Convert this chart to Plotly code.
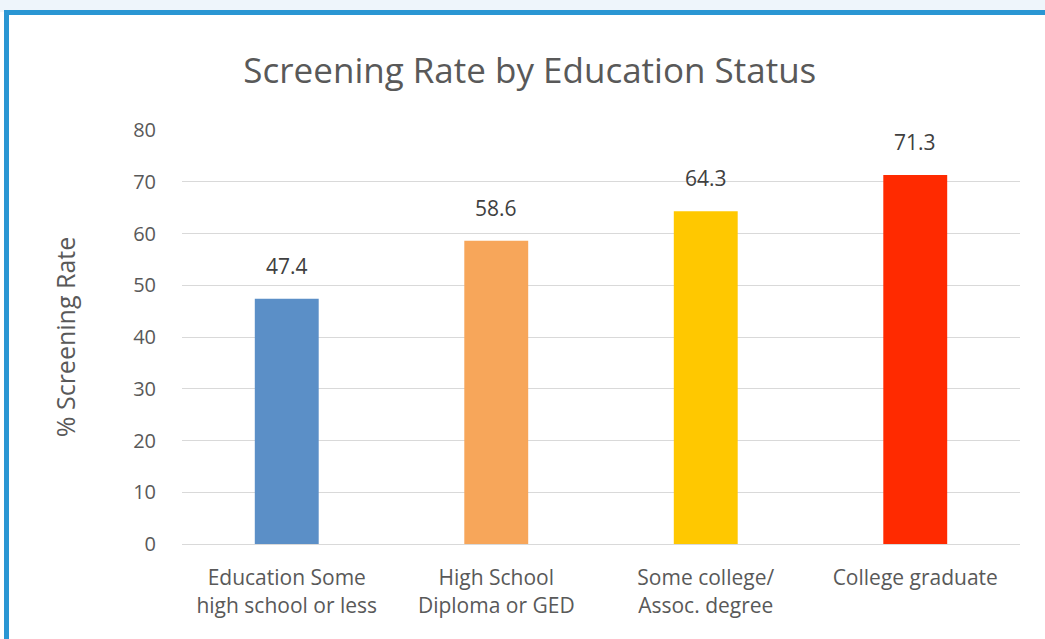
import plotly.graph_objects as go

categories = ["Education Some<br>high school or less", "High School<br>Diploma or GED",
              "Some college/<br>Assoc. degree", "College graduate<br> "]
rates = [47.4, 58.6, 64.3, 71.3]
bar_colors = ["#5B8FC7", "#F7A65A", "#FFC800", "#FF2A00"]
y_ticks = [0, 10, 20, 30, 40, 50, 60, 70, 80]

# plot area in pixels: left 182, right 1020, top 130, bottom 544
L, T, R, B = 182, 130, 1020, 544
W, H = R - L, B - T


def px_x(px):
    return (px - L) / W


def px_y(py):
    return (B - py) / H


fig = go.Figure(go.Bar(
    x=categories, y=rates,
    marker=dict(color=bar_colors, line=dict(width=0)),
    width=0.305,
    hoverinfo="x+y",
))

for cat, v in zip(categories, rates):
    fig.add_annotation(x=cat, y=v, text=f"{v:.1f}", showarrow=False,
                       yanchor="bottom", yshift=17,
                       font=dict(size=21, color="#404040"))

BORDER = "#2A96D3"
fig.update_layout(
    width=1045, height=639,
    paper_bgcolor="white", plot_bgcolor="white",
    font=dict(family="Open Sans", color="#595959"),
    title=dict(text="Screening Rate by Education Status", x=0.507, xanchor="center",
               y=0.889, yanchor="middle", font=dict(size=35, color="#595959")),
    margin=dict(l=L, r=1045 - R, t=T, b=639 - B),
    showlegend=False,
    yaxis=dict(range=[0, 80], tickvals=y_ticks, gridcolor="#D9D9D9", gridwidth=1,
               zeroline=False, ticks="", tickfont=dict(size=20, color="#595959"),
               ticklabelstandoff=25,
               title=dict(text="% Screening Rate", font=dict(size=25, color="#595959"),
                          standoff=50),
               showline=False),
    xaxis=dict(showline=True, linecolor="#D9D9D9", linewidth=1, ticks="",
               tickfont=dict(size=21, color="#595959"), ticklabelstandoff=15),
    shapes=[
        # faint backdrop above the frame
        dict(type="rect", xref="paper", yref="paper", x0=px_x(0), x1=px_x(1045),
             y0=px_y(12), y1=px_y(0), fillcolor="#EEF5FB", line=dict(width=0), layer="below"),
        dict(type="line", xref="paper", yref="paper", x0=px_x(4), x1=px_x(1045),
             y0=px_y(12.5), y1=px_y(12.5), line=dict(color=BORDER, width=5)),
        dict(type="line", xref="paper", yref="paper", x0=px_x(6.5), x1=px_x(6.5),
             y0=px_y(639), y1=px_y(10), line=dict(color=BORDER, width=5)),
    ],
)

fig.write_html("out.html", config={"displayModeBar": False},
               post_script="document.body.style.margin='0';")
